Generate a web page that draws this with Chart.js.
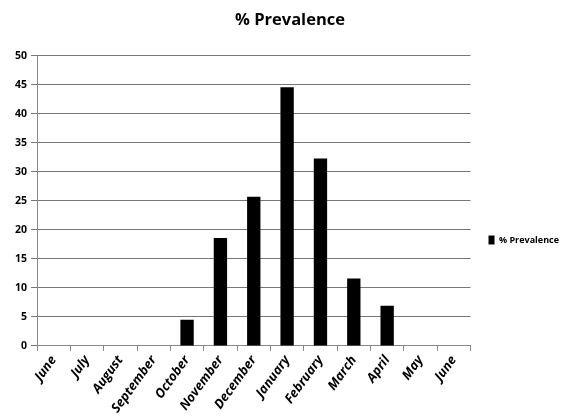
<!DOCTYPE html>
<html>
<head>
<meta charset="utf-8">
<script src="https://cdn.jsdelivr.net/npm/chart.js@4"></script>
<style>
html,body{margin:0;padding:0;background:#fff;}
#wrap{width:561px;height:419px;}
</style>
</head>
<body>
<div id="wrap"><canvas id="c" width="561" height="419"></canvas></div>
<script>
const categories = ["June","July","August","September","October","November","December","January","February","March","April","May","June"];
const prevalence = [0,0,0,0,4.5,18.6,25.7,44.6,32.3,11.6,6.9,0,0];
const seriesName = "% Prevalence";
const yTicks = [0,5,10,15,20,25,30,35,40,45,50];

const FONT = "'Open Sans','Noto Sans',sans-serif";

new Chart(document.getElementById('c'), {
  type: 'bar',
  data: {
    labels: categories,
    datasets: [{
      label: seriesName,
      data: prevalence,
      backgroundColor: '#000',
      borderWidth: 0,
      categoryPercentage: 1,
      barPercentage: 0.4
    }]
  },
  options: {
    responsive: false,
    animation: false,
    layout: { padding: { left: 11, right: -8, top: 6, bottom: 1 } },
    plugins: {
      title: {
        display: true,
        text: seriesName,
        color: '#000',
        font: { family: FONT, size: 16.5, weight: 'bold' },
        padding: { top: 4, bottom: 26 }
      },
      legend: {
        position: 'right',
        title: { display: true, text: ' ', padding: { top: 44, bottom: 0 }, font: { size: 10 } },
        labels: {
          color: '#000',
          boxWidth: 6,
          boxHeight: 9,
          padding: 18,
          font: { family: FONT, size: 9, weight: 'bold' }
        }
      },
      tooltip: { enabled: false }
    },
    scales: {
      x: {
        grid: { display: true, drawOnChartArea: false, drawTicks: true, tickLength: 5, color: '#888' },
        border: { display: true, color: '#888', width: 1 },
        ticks: {
          color: '#000',
          padding: 2,
          minRotation: 54, maxRotation: 54,
          autoSkip: false,
          font: { family: FONT, size: 13, weight: 'bold', style: 'italic' }
        }
      },
      y: {
        min: 0, max: 50,
        afterBuildTicks: (axis) => { axis.ticks = yTicks.map(v => ({ value: v })); },
        grid: { color: '#777', lineWidth: 1, drawTicks: true, tickLength: 6 },
        border: { display: true, color: '#888', width: 1 },
        ticks: {
          color: '#000',
          padding: 4,
          font: { family: FONT, size: 10.5, weight: 'bold' }
        }
      }
    }
  }
});
</script>
</body>
</html>
